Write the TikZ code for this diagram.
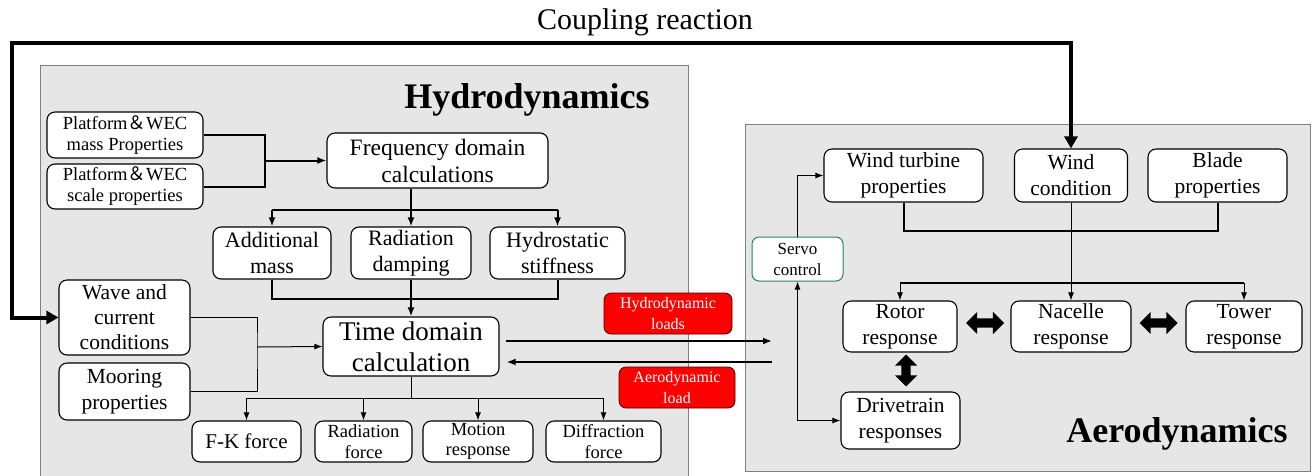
\documentclass[tikz,border=0pt]{standalone}
\usepackage{fontspec}
\setmainfont{Liberation Serif}
\newfontfamily\cjk{Noto Sans CJK SC}
\usetikzlibrary{arrows.meta,shapes.arrows,calc}
\definecolor{panelgray}{RGB}{230,230,230}
\definecolor{panelline}{RGB}{128,128,128}
\definecolor{servoc}{RGB}{40,130,110}
\definecolor{redbox}{RGB}{255,0,0}
\begin{document}
\begin{tikzpicture}[x=1pt,y=-1pt,
  box/.style={draw=black, line width=1.1pt, rounded corners=8pt, fill=white, inner sep=0pt, align=center},
  redb/.style={draw=black!70!red, line width=0.8pt, rounded corners=7pt, fill=redbox, text=white, inner sep=0pt, align=center},
  servob/.style={draw=servoc, line width=1pt, rounded corners=7pt, fill=white, inner sep=0pt, align=center},
  fsz/.style 2 args={font=\fontsize{#1pt}{#2pt}\selectfont},
  sz/.style 2 args={minimum width=#1pt, minimum height=#2pt},
  panel/.style={draw=panelline, line width=1pt, fill=panelgray},
  la/.style={line width=1pt, -{Latex[length=8pt,width=6pt]}},
  lb/.style={line width=2pt, -{Latex[length=9pt,width=7pt]}},
  lbn/.style={line width=2pt},
  lan/.style={line width=1pt},
  lc/.style={line width=4pt, {Triangle[length=12pt,width=13pt]}-{Triangle[length=12pt,width=13pt]}},
  darr/.style={double arrow, fill=black, inner sep=0pt, minimum width=22pt, double arrow head extend=6.5pt, double arrow tip angle=90}
]
\useasboundingbox (0,0) rectangle (1313,475);
\fill[white] (0,0) rectangle (1313,475);

% panels
\draw[panel] (40,65) rectangle (688,478);
\draw[panel] (745,124) rectangle (1310,471);

% titles
\node[font=\fontsize{30pt}{34pt}\selectfont] (coup) at (645,22) {Coupling reaction};
\node[font=\fontsize{36pt}{40pt}\selectfont\bfseries] (hydt) at (527,100) {Hydrodynamics};
\node[font=\fontsize{36pt}{40pt}\selectfont\bfseries] (aert) at (1177,434) {Aerodynamics};

% hydrodynamics nodes
\node[box, sz={156}{46}, fsz={18.5}{21}] (pm) at (125,135) {Platform{\cjk ＆}WEC\\mass Properties};
\node[box, sz={156}{45}, fsz={18.5}{21}] (ps) at (125,186.5) {Platform{\cjk ＆}WEC\\scale properties};
\node[box, sz={221}{55}, fsz={23.5}{27}] (freq) at (437.5,160.5) {Frequency domain\\calculations};
\node[box, sz={118}{52}, fsz={22}{26}] (am) at (272,253) {Additional\\mass};
\node[box, sz={120}{52}, fsz={22}{26}] (rd) at (411,253) {Radiation\\damping};
\node[box, sz={135}{52}, fsz={22}{26}] (hs) at (557.5,253) {Hydrostatic\\stiffness};
\node[box, sz={131}{75}, fsz={21.5}{25}] (wave) at (124.5,317.5) {Wave and\\current\\conditions};
\node[box, sz={131}{57}, fsz={21.5}{26}] (moor) at (124.5,391.5) {Mooring\\properties};
\node[box, sz={176}{59}, fsz={27}{31}] (time) at (411,346.5) {Time domain\\calculation};
\node[box, sz={109}{41}, fsz={21}{24}] (fk) at (246.5,441.5) {F-K force};
\node[box, sz={97}{41}, fsz={18.5}{20.5}] (rf) at (363.5,441.5) {Radiation\\force};
\node[box, sz={110}{41}, fsz={18.5}{20.5}] (mr) at (478,441.5) {Motion\\response};
\node[box, sz={115}{41}, fsz={18.5}{20.5}] (df) at (603.5,441.5) {Diffraction\\force};

% red labels
\node[redb, sz={128}{41}, fsz={16}{21}] (hl) at (668,313.5) {Hydrodynamic\\loads};
\node[redb, sz={116}{41}, fsz={16}{21}] (al) at (677,387.5) {Aerodynamic\\load};

% aerodynamics nodes
\node[box, sz={159}{53}, fsz={21.5}{26}] (wt) at (903.5,175.5) {Wind turbine\\properties};
\node[box, sz={113}{53}, fsz={21.5}{26}] (wc) at (1071,175.5) {Wind\\condition};
\node[box, sz={139}{53}, fsz={21.5}{26}] (bp) at (1217.5,175.5) {Blade\\properties};
\node[servob, sz={91}{44}, fsz={17}{21}] (servo) at (797.5,259) {Servo\\control};
\node[box, sz={114}{51}, fsz={21.5}{26}] (rot) at (900,326.5) {Rotor\\response};
\node[box, sz={120}{51}, fsz={21.5}{26}] (nac) at (1071,326.5) {Nacelle\\response};
\node[box, sz={116}{51}, fsz={21.5}{26}] (tow) at (1244,326.5) {Tower\\response};
\node[box, sz={119}{57}, fsz={21.5}{26}] (dt) at (900.5,420.5) {Drivetrain\\responses};

% double arrows
\node[darr, minimum height=38pt] (da1) at (985,323) {\rule{0pt}{9pt}};
\node[darr, minimum height=38pt] (da2) at (1158.5,323) {\rule{0pt}{9pt}};
\node[darr, minimum height=32pt, rotate=90] (da3) at (906,370.5) {\rule{0pt}{9pt}};

% coupling reaction loop
\coordinate (c1) at (12,43);
\draw[lc] (wave.west) -| (c1) -| (wc.north);

% platform -> frequency
\coordinate (pj) at (265,160.5);
\draw[lbn] (pm.east) -| (pj) |- (ps.east);
\draw[lb] (pj) -- (freq.west);

% frequency -> coefficients
\coordinate (fj) at (411,210);
\draw[lb] (freq.south -| rd.north) -- (rd.north);
\draw[lbn] (am.north |- fj) -- (hs.north |- fj);
\draw[lb] (am.north |- fj) -- (am.north);
\draw[lb] (hs.north |- fj) -- (hs.north);

% coefficients -> time
\coordinate (bj) at (411,299);
\draw[lbn] (am.south) |- (bj) -| (hs.south);
\draw[lb] (rd.south) -- (time.north);

% wave & mooring -> time
\coordinate (wj) at (257,347);
\draw[lan] (wave.east) -| (wj) |- (moor.east);
\draw[la] (wj) -- (time.west);

% time -> outputs
\coordinate (tj) at (411,398);
\draw[lan] (time.south) -- (tj);
\draw[lan] (fk.north |- tj) -- (df.north |- tj);
\draw[la] (fk.north |- tj) -- (fk.north);
\draw[la] (rf.north |- tj) -- (rf.north);
\draw[la] (mr.north |- tj) -- (mr.north);
\draw[la] (df.north |- tj) -- (df.north);

% loads exchange
\coordinate (ha) at (772,341);
\coordinate (hb) at (772,362);
\draw[lb] ($(time.east |- ha)+(6,0)$) -- (ha);
\draw[lb] (hb) -- ($(time.east |- hb)+(7,0)$);

% aerodynamics connectors
\coordinate (aj) at (1071,231);
\draw[lbn] (wt.south) |- (aj) -| (bp.south);
\draw[la] (wc.south) -- (nac.north);
\coordinate (rj) at (1071,283);
\draw[lbn] (rot.north |- rj) -- (tow.north |- rj);
\draw[la] (rot.north |- rj) -- (rot.north);
\draw[la] (tow.north |- rj) -- (tow.north);
\draw[la] (servo.north) |- (wt.west);
\draw[line width=1pt, {Latex[length=8pt,width=6pt]}-{Latex[length=8pt,width=6pt]}] (servo.south) |- (dt.west);
\end{tikzpicture}
\end{document}
